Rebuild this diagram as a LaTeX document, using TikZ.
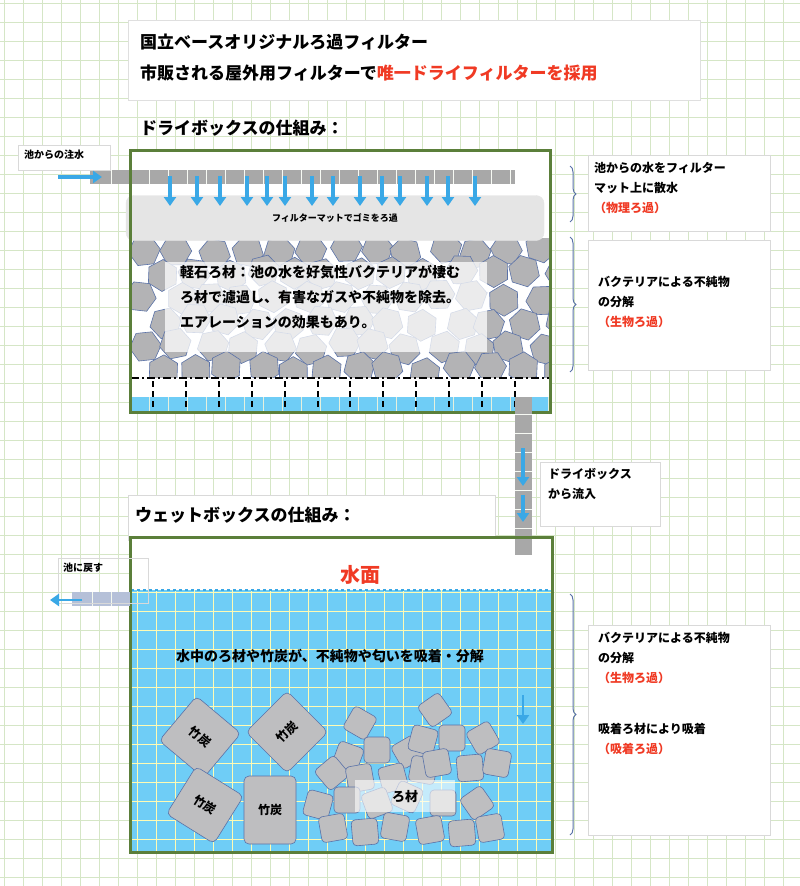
\documentclass[tikz,border=0pt]{standalone}
\usepackage{fontspec}
\setmainfont{Noto Sans CJK JP}
\usetikzlibrary{shapes.geometric,decorations.pathreplacing,arrows.meta}
\definecolor{gridc}{HTML}{D5E6C6}
\definecolor{boxg}{HTML}{5B7F3A}
\definecolor{waterb}{HTML}{6FCDF6}
\definecolor{arrb}{HTML}{3AA8E6}
\definecolor{hexg}{HTML}{B3B3B5}
\definecolor{hexe}{HTML}{5A72A8}
\definecolor{redt}{HTML}{F03A24}
\definecolor{pipeg}{HTML}{A8A8A8}
\tikzset{
 lbl/.style={draw=gray!30,fill=white,line width=0.6pt},
 txt/.style={font=\bfseries\fontsize{12}{20}\selectfont,align=left,anchor=north west,inner sep=0pt},
 ttl/.style={font=\bfseries\fontsize{17}{22}\selectfont,anchor=west,inner sep=0pt},
 blarr/.style={draw=arrb,fill=arrb,line width=3.2pt,-{Triangle[length=9pt,width=12pt]}},
 hex/.style={regular polygon,regular polygon sides=6,minimum size=32pt,fill=hexg,draw=hexe,line width=0.6pt,inner sep=0pt},
 roz/.style={rectangle,rounded corners=4pt,minimum size=26pt,fill=hexg!85,draw=hexe,line width=0.6pt},
 chik/.style={rectangle,rounded corners=5pt,minimum size=56pt,fill=hexg!85,draw=hexe,line width=0.6pt,font=\bfseries\fontsize{12}{14}\selectfont},
 brc/.style={decorate,decoration={brace,amplitude=6pt},draw=hexe,line width=1pt}
}
\begin{document}
\begin{tikzpicture}[x=1pt,y=-1pt]
\useasboundingbox (0,0) rectangle (800,886);
\fill[white] (0,0) rectangle (800,886);
\foreach \i in {0,...,42} {\draw[gridc,line width=0.8pt] (\i*19+4,0) -- (\i*19+4,886);}
\foreach \i in {0,...,47} {\draw[gridc,line width=0.8pt] (0,\i*19+3) -- (800,\i*19+3);}
% titles
\draw[gray!25,fill=white] (128,20) rectangle (700,100);
\node[ttl] (t1) at (140,42) {国立ベースオリジナルろ過フィルター};
\node[ttl] (t2) at (140,73) {市販される屋外用フィルターで\textcolor{redt}{唯一ドライフィルターを採用}};
\node[ttl] (t3) at (140,128) {ドライボックスの仕組み：};
% top box interior
\fill[white] (130,150) rectangle (550,412);
\begin{scope}
\clip (131,238) rectangle (549,377);
\pgfmathsetseed{7}
\foreach \r in {0,...,5} {
 \foreach \c in {0,...,12} {
  \pgfmathsetmacro\xx{145+\c*33+mod(\r,2)*16+rand*5}
  \pgfmathsetmacro\yy{250+\r*24+rand*4}
  \pgfmathsetmacro\rr{rand*30}
  \node[hex,rotate=\rr] (h\r\c) at (\xx,\yy) {};
 }}
\end{scope}
\fill[waterb] (130,397) rectangle (550,412);
\foreach \x in {149,168,187,206,225,244,263,282,301,320,339,358,377,396,415,434,453,472,491,510,529,548} {\draw[gridc!60,line width=0.6pt] (\x,397) -- (\x,412);}
\draw[black,line width=1.6pt,dash pattern=on 8pt off 3pt on 2pt off 3pt] (131,378) -- (549,378);
\foreach \x in {153,186,219,252,285,318,350,383,416,449,482,515} {\draw[black,line width=1.4pt,dash pattern=on 6pt off 4pt] (\x,381) -- (\x,412);}
% text box
\fill[white,opacity=0.75] (165,262) rectangle (487,352);
\node[txt,font=\bfseries\fontsize{14}{25}\selectfont] (desc) at (180,265) {軽石ろ材：池の水を好気性バクテリアが棲む\\ろ材で濾過し、有害なガスや不純物を除去。\\エアレーションの効果もあり。};
% filter mat
\node[draw=gray!20,fill=gray!20,rounded corners=8pt,minimum width=418pt,minimum height=45pt,font=\bfseries\fontsize{9}{10}\selectfont] (mat) at (335,218) {フィルターマットでゴミをろ過};
% inlet pipe
\fill[pipeg] (90,170) rectangle (515,184);
\foreach \x in {111,130,149,168,187,206,225,244,263,282,301,320,339,358,377,396,415,434,453,472,491,510} {\draw[white!80!gridc,line width=0.7pt] (\x,170) -- (\x,184);}
\draw[boxg,line width=3pt] (130,150) rectangle (550,412);
\draw[lbl] (18,145) rectangle (110,170);
\node[txt,font=\bfseries\fontsize{10}{12}\selectfont] (in) at (24,150) {池からの注水};
\coordinate (ia) at (58,177); \coordinate (ib) at (102,177);
\draw[blarr] (ia) -- (ib);
\foreach \x in {170,197,220,247,267,285,312,333,360,382,400,427,448,475} {\draw[blarr] (\x,176) -- (\x,206);}
% outflow pipe
\fill[pipeg] (515,397) rectangle (532,555);
\foreach \y in {414,433,452,471,490,509,528,547} {\draw[white!80!gridc,line width=0.7pt] (515,\y) -- (532,\y);}
\draw[blarr] (523,448) -- (523,486);
\draw[blarr] (523,495) -- (523,522);
\draw[lbl] (540,462) rectangle (660,526);
\node[txt] (fl) at (548,468) {ドライボックス\\から流入};
% right labels top
\draw[lbl] (588,155) rectangle (770,231);
\node[txt] (l1) at (594,162) {池からの水をフィルター\\マット上に散水\\\textcolor{redt}{（物理ろ過）}};
\draw[brc] (570,166) -- (570,222);
\draw[lbl] (588,240) rectangle (770,370);
\node[txt] (l2) at (598,276) {バクテリアによる不純物\\の分解\\\textcolor{redt}{（生物ろ過）}};
\draw[brc] (570,237) -- (570,372);
% wet box
\draw[lbl] (128,495) rectangle (495,540);
\node[ttl] (t4) at (135,515) {ウェットボックスの仕組み：};
\fill[white] (130,537) rectangle (552,590);
\fill[waterb] (130,590) rectangle (552,852);
\begin{scope}
\clip (130,590) rectangle (552,852);
\foreach \i in {0,...,42} {\draw[yellow!30!white,line width=0.7pt] (\i*19+4,590) -- (\i*19+4,852);}
\foreach \i in {31,...,47} {\draw[yellow!30!white,line width=0.7pt] (0,\i*19+3) -- (800,\i*19+3);}
\end{scope}
\fill[pipeg] (515,537) rectangle (532,555);
\draw[arrb,line width=1.4pt,dashed] (131,590) -- (551,590);
\node[font=\bfseries\fontsize{20}{22}\selectfont,text=redt] (sm) at (360,575) {水面};
\node[font=\bfseries\fontsize{14}{16}\selectfont] (d2) at (330,656) {水中のろ材や竹炭が、不純物や匂いを吸着・分解};
% charcoal
\node[chik,minimum size=58pt,rotate=-40] (c1) at (200,737) {竹炭};
\node[chik,minimum size=58pt,rotate=45] (c2) at (287,732) {竹炭};
\node[chik,minimum size=56pt,rotate=-32] (c3) at (205,805) {竹炭};
\node[chik,minimum width=52pt,minimum height=68pt] (c4) at (270,810) {竹炭};
% small media
\foreach \px/\py/\a [count=\k] in {360/723/-30,435/710/35,483/738/30,348/757/-20,377/750/0,408/752/30,423/740/-15,452/738/0,332/773/40,360/778/10,393/778/15,423/770/-10,437/763/10,470/768/5,497/763/-10,318/805/-15,347/800/0,377/803/20,407/797/-25,443/803/0,477/803/35,333/828/10,365/832/5,395/827/-10,430/830/10,462/833/5,490/828/10} {
 \node[roz,rotate=\a] (m\k) at (\px,\py) {};}
\fill[white,opacity=0.6] (355,780) rectangle (455,812);
\node[font=\bfseries\fontsize{13}{14}\selectfont] (rz) at (405,797) {ろ材};
\draw[blarr,line width=2.6pt] (523,695) -- (523,724);
\draw[boxg,line width=3pt] (130,537) rectangle (552,852);
% outlet
\fill[hexe!45] (72,592) rectangle (130,606);
\foreach \x in {92,111} {\draw[white!70!gridc,line width=0.7pt] (\x,592) -- (\x,606);}
\draw[lbl,fill=none] (58,558) rectangle (148,603);
\node[txt,font=\bfseries\fontsize{10}{12}\selectfont] (ret) at (63,563) {池に戻す};
\coordinate (oa) at (82,600); \coordinate (ob) at (50,600);
\draw[blarr,line width=2.8pt] (oa) -- (ob);
% right labels bottom
\draw[lbl] (588,625) rectangle (770,835);
\node[txt] (l3) at (598,632) {バクテリアによる不純物\\の分解\\\textcolor{redt}{（生物ろ過）}};
\node[txt] (l4) at (598,723) {吸着ろ材により吸着\\\textcolor{redt}{（吸着ろ過）}};
\draw[brc] (570,594) -- (570,835);
\end{tikzpicture}
\end{document}
